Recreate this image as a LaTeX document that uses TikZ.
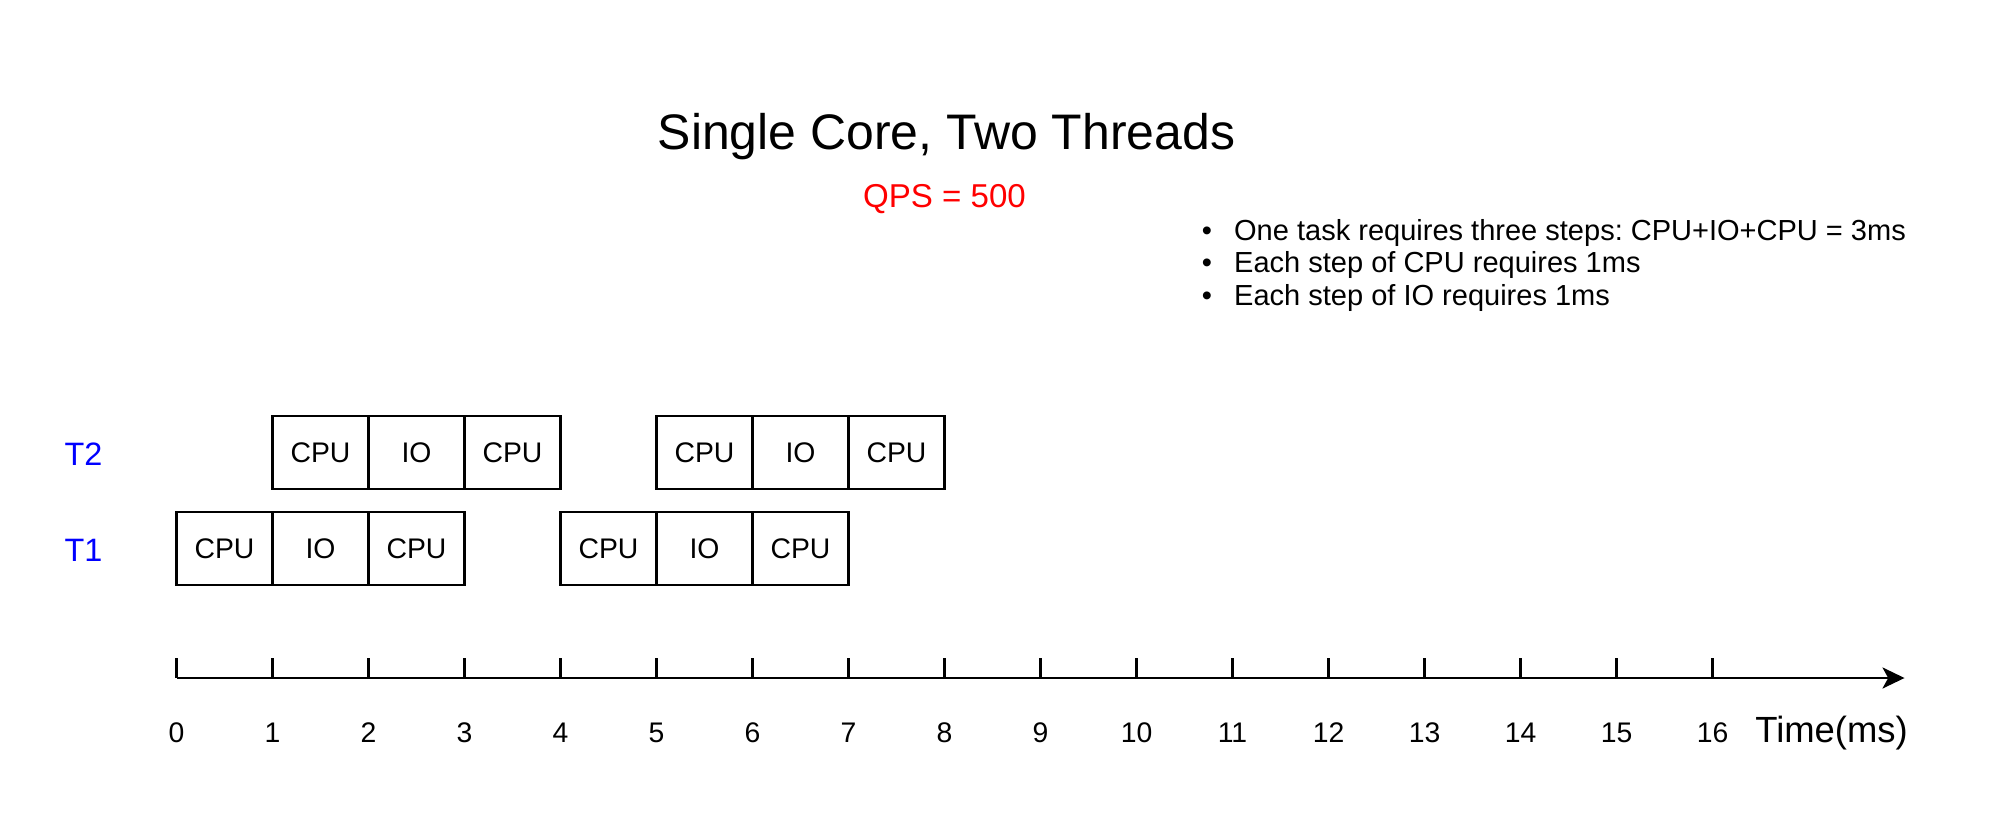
\documentclass[tikz,border=0pt]{standalone}
\usepackage{fontspec}
\setmainfont{Liberation Sans}
\usetikzlibrary{positioning, arrows.meta}
\frenchspacing

\begin{document}
\begin{tikzpicture}[
    line width=0.65pt,
    slot/.style={draw, minimum width=1cm, minimum height=0.76cm, inner sep=0pt, outer sep=0pt, font=\fontsize{8.4}{10}\selectfont},
    ticklabel/.style={anchor=base, inner sep=0pt, font=\fontsize{8.4}{10}\selectfont},
    thread/.style={text=blue, inner sep=0pt, font=\fontsize{9.6}{11}\selectfont}
]
    % Fix the page size
    \useasboundingbox (-1.839,-1.5) rectangle (19.057,7.0625);

    % Define the ends of the time axis
    \coordinate (origin) at (0,0);
    \coordinate (axisend) at (18,0);

    % Title and notes
    \node[anchor=base, font=\fontsize{14.8}{17}\selectfont] (title) at (8.02,5.503) {Single Core, Two Threads};
    \node[anchor=base, text=red, font=\fontsize{9.8}{12}\selectfont] (qps) at (8.0,4.9) {QPS = 500};
    \node[anchor=base west, inner sep=0pt, font=\fontsize{8.6}{9.6}\selectfont] (notes) at (10.67,4.557)
        {\begin{tabular}[t]{@{}l@{\hspace{0.23cm}}l@{}}
            \textbullet & One task requires three steps: CPU+IO+CPU = 3ms\\
            \textbullet & Each step of CPU requires 1ms\\
            \textbullet & Each step of IO requires 1ms
        \end{tabular}};

    % Thread labels
    \node[thread] (T2) at (-0.97,2.33) {T2};
    \node[thread] (T1) at (-0.97,1.33) {T1};

    % Draw the tasks of T1
    \node[slot] (t1a1) at (0.5,1.35) {CPU};
    \node[slot, right=0pt of t1a1] (t1a2) {IO};
    \node[slot, right=0pt of t1a2] (t1a3) {CPU};

    \node[slot] (t1b1) at (4.5,1.35) {CPU};
    \node[slot, right=0pt of t1b1] (t1b2) {IO};
    \node[slot, right=0pt of t1b2] (t1b3) {CPU};

    % Draw the tasks of T2
    \node[slot] (t2a1) at (1.5,2.35) {CPU};
    \node[slot, right=0pt of t2a1] (t2a2) {IO};
    \node[slot, right=0pt of t2a2] (t2a3) {CPU};

    \node[slot] (t2b1) at (5.5,2.35) {CPU};
    \node[slot, right=0pt of t2b1] (t2b2) {IO};
    \node[slot, right=0pt of t2b2] (t2b3) {CPU};

    % Draw the time axis
    \draw[-{Stealth[length=2.3mm, width=2.2mm, inset=0.6mm]}] (origin) -- (axisend);
    \foreach \t in {0,...,16} {
        \draw (\t,0) -- (\t,0.21);
        \node[ticklabel] (lab\t) at (\t,-0.667) {\t};
    }
    \node[anchor=base, inner sep=0pt, font=\fontsize{10.8}{13}\selectfont] (unit) at (17.24,-0.667) {Time(ms)};

\end{tikzpicture}
\end{document}
